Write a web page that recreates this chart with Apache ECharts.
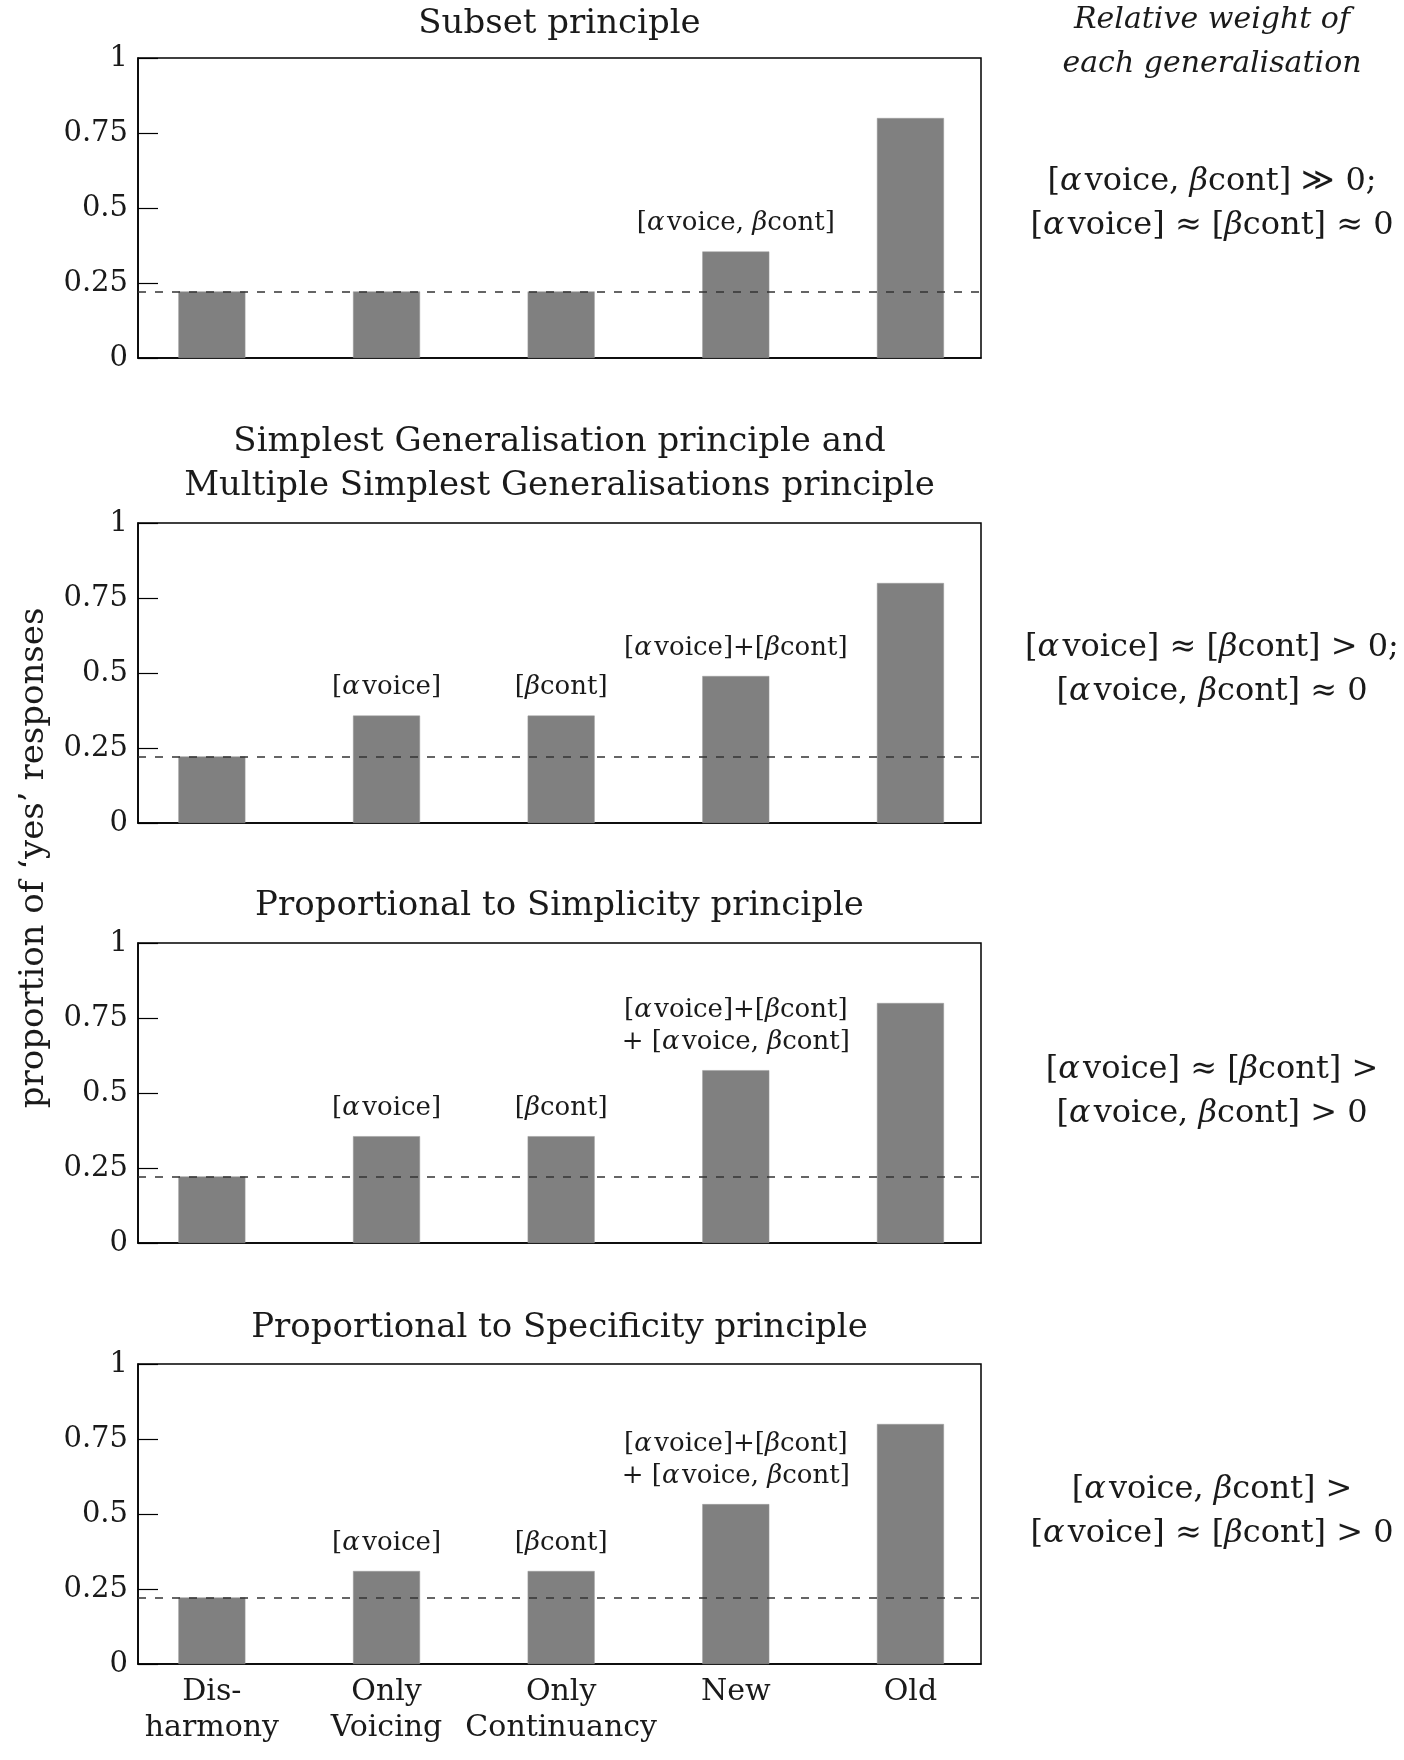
<!DOCTYPE html>
<html>
<head>
<meta charset="utf-8">
<script src="https://cdn.jsdelivr.net/npm/echarts@6/dist/echarts.min.js"></script>
<style>
html,body{margin:0;padding:0;background:#fff;}
#chart{width:1404px;height:1760px;}
</style>
</head>
<body>
<div id="chart"></div>
<script>
// ---- data ----
const categories = ['Dis-\nharmony', 'Only\nVoicing', 'Only\nContinuancy', 'New', 'Old'];
const panelTitles = [
  'Subset principle',
  'Simplest Generalisation principle and\nMultiple Simplest Generalisations principle',
  'Proportional to Simplicity principle',
  'Proportional to Specificity principle'
];
const subsetValues = [0.222, 0.222, 0.222, 0.355, 0.80];
const simplestValues = [0.222, 0.358, 0.358, 0.49, 0.80];
const simplicityValues = [0.222, 0.356, 0.356, 0.576, 0.80];
const specificityValues = [0.222, 0.31, 0.31, 0.533, 0.80];
const baseline = 0.222;
const subsetNotes = ['', '', '', '[\u03B1voice, \u03B2cont]', ''];
const simplestNotes = ['', '[\u03B1voice]', '[\u03B2cont]', '[\u03B1voice]+[\u03B2cont]', ''];
const simplicityNotes = ['', '[\u03B1voice]', '[\u03B2cont]', '[\u03B1voice]+[\u03B2cont]\n+ [\u03B1voice, \u03B2cont]', ''];
const specificityNotes = ['', '[\u03B1voice]', '[\u03B2cont]', '[\u03B1voice]+[\u03B2cont]\n+ [\u03B1voice, \u03B2cont]', ''];
const weightHeader = 'Relative weight of\neach generalisation';
const weightTexts = [
  '[\u03B1voice, \u03B2cont] \u226B 0;\n[\u03B1voice] \u2248 [\u03B2cont] \u2248 0',
  '[\u03B1voice] \u2248 [\u03B2cont] > 0;\n[\u03B1voice, \u03B2cont] \u2248 0',
  '[\u03B1voice] \u2248 [\u03B2cont] >\n[\u03B1voice, \u03B2cont] > 0',
  '[\u03B1voice, \u03B2cont] >\n[\u03B1voice] \u2248 [\u03B2cont] > 0'
];
const yTicks = [0, 0.25, 0.5, 0.75, 1];
const yAxisTitle = 'proportion of \u2018yes\u2019 responses';

const panelValues = [subsetValues, simplestValues, simplicityValues, specificityValues];
const panelNotes = [subsetNotes, simplestNotes, simplicityNotes, specificityNotes];

// ---- layout ----
const FONT = 'DejaVu Serif';
const INK = '#1a1a1a';
const gridLeft = 138, gridWidth = 843, gridHeight = 300;
const gridTops = [58, 523, 943, 1364];
const titleYs = [24, 464, 906, 1328];
const weightYs = [204, 670, 1092, 1512];
const rightX = 1212;

// italicise Greek letters through rich text
function greek(s) {
  return s.replace(/\u03B1/g, '{g|\u03B1}\u200A').replace(/\u03B2/g, '{g|\u03B2}');
}
function richFor(size, lh) {
  return {g: {fontStyle: 'italic', fontFamily: FONT, fontSize: size, lineHeight: lh, fill: INK, color: INK}};
}

const grids = [], xAxes = [], yAxes = [], series = [], graphics = [];
panelValues.forEach((vals, p) => {
  const isLast = p === panelValues.length - 1;
  grids.push({left: gridLeft, top: gridTops[p], width: gridWidth, height: gridHeight,
    show: true, borderColor: '#000', borderWidth: 1.5, backgroundColor: 'transparent'});
  xAxes.push({
    type: 'value', gridIndex: p, min: -0.423, max: 4.404,
    splitLine: {show: false},
    axisLine: {show: true, onZero: false, lineStyle: {color: '#000', width: 1.5}},
    axisTick: {show: false},
    axisLabel: {
      show: isLast, customValues: [0, 1, 2, 3, 4],
      formatter: v => categories[Math.round(v)] || '',
      fontFamily: FONT, fontSize: 30, lineHeight: 36, color: INK, margin: 10
    }
  });
  yAxes.push({
    type: 'value', gridIndex: p, min: 0, max: 1, interval: 0.25,
    splitLine: {show: false},
    axisLine: {show: true, onZero: false, lineStyle: {color: '#000', width: 1.5}},
    axisTick: {show: true, inside: true, length: 20, lineStyle: {color: '#000', width: 1.2}},
    axisLabel: {
      fontFamily: FONT, fontSize: 29, color: INK, margin: 10,
      formatter: v => String(v)
    }
  });
  series.push({
    type: 'bar', xAxisIndex: p, yAxisIndex: p,
    data: vals.map((v, i) => [i, v]),
    barWidth: 67,
    itemStyle: {color: '#808080', borderColor: '#9a9a9a', borderWidth: 0.5},
    label: {
      show: true, position: 'top', distance: 12,
      formatter: prm => greek(panelNotes[p][prm.dataIndex] || ''),
      fontFamily: FONT, fontSize: 26, lineHeight: 32, color: INK, align: 'center',
      rich: richFor(26, 32)
    },
    markLine: {
      silent: true, symbol: 'none',
      label: {show: false},
      lineStyle: {type: [8, 9], color: '#333', width: 1.5},
      data: [{yAxis: baseline}]
    },
    animation: false
  });
  graphics.push({
    type: 'text', x: gridLeft + gridWidth / 2, y: titleYs[p],
    style: {text: panelTitles[p], fontFamily: FONT, fontSize: 34, fill: INK,
      align: 'center', verticalAlign: 'middle', lineHeight: 44}
  });
  graphics.push({
    type: 'text', x: rightX, y: weightYs[p],
    style: {text: greek(weightTexts[p]), fontFamily: FONT, fontSize: 32, fill: INK,
      align: 'center', verticalAlign: 'middle', lineHeight: 44, rich: richFor(32, 44)}
  });
});
graphics.push({
  type: 'text', x: rightX, y: 42,
  style: {text: weightHeader, fontFamily: FONT, fontStyle: 'italic', fontSize: 30, fill: INK,
    align: 'center', verticalAlign: 'middle', lineHeight: 44}
});
graphics.push({
  type: 'text', x: 34, y: 858, rotation: Math.PI / 2,
  style: {text: yAxisTitle, fontFamily: FONT, fontSize: 34, fill: INK,
    align: 'center', verticalAlign: 'middle'}
});

const chart = echarts.init(document.getElementById('chart'), null, {renderer: 'canvas'});
chart.setOption({
  animation: false,
  backgroundColor: '#fff',
  grid: grids, xAxis: xAxes, yAxis: yAxes, series: series,
  graphic: graphics
});
</script>
</body>
</html>
